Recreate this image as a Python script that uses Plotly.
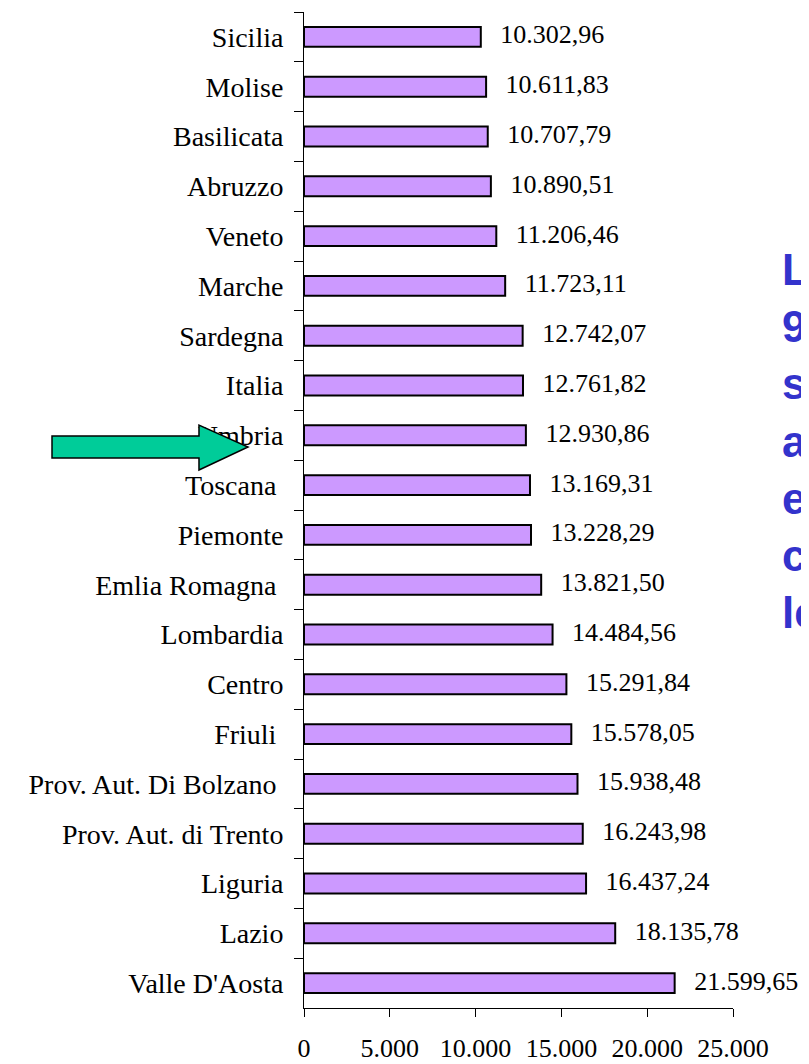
import plotly.graph_objects as go

regions = ["Sicilia", "Molise", "Basilicata", "Abruzzo", "Veneto", "Marche",
           "Sardegna", "Italia", "Umbria", "Toscana\u00a0", "Piemonte",
           "Emlia Romagna\u00a0", "Lombardia", "Centro", "Friuli\u00a0",
           "Prov. Aut. Di Bolzano\u00a0", "Prov. Aut. di Trento", "Liguria",
           "Lazio", "Valle D'Aosta"]
values = [10302.96, 10611.83, 10707.79, 10890.51, 11206.46, 11723.11,
          12742.07, 12761.82, 12930.86, 13169.31, 13228.29,
          13821.50, 14484.56, 15291.84, 15578.05,
          15938.48, 16243.98, 16437.24,
          18135.78, 21599.65]
x_ticks = [0, 5000, 10000, 15000, 20000, 25000]

OFF = 8  # page body margin
W, H = 809 - OFF, 1064 - OFF
L, R, T, B = 304 - OFF, 809 - 733, 12 - OFF, 1064 - 1008
pw, ph = W - L - R, H - T - B

def px(x):
    return (x - OFF - L) / pw

def py(y):
    return (H - B - (y - OFF)) / ph

serif = "Liberation Serif"

fig = go.Figure()
fig.add_trace(go.Bar(
    x=values, y=regions, orientation="h",
    marker=dict(color="#CC99FF", line=dict(color="black", width=2)),
    hoverinfo="skip",
))
fig.add_trace(go.Scatter(
    x=values, y=regions, mode="text",
    text=[f"{v:,.2f}".replace(",", "X").replace(".", ",").replace("X", ".") for v in values],
    texttemplate="\u00a0\u00a0\u00a0%{text}",
    textposition="middle right", cliponaxis=False,
    textfont=dict(family=serif, size=26, color="black"),
    hoverinfo="skip",
))

arrow = [(52, 436), (199, 436), (199, 425), (248, 447), (199, 470), (199, 458), (52, 458)]
path = "M " + " L ".join(f"{px(a):.4f},{py(b):.4f}" for a, b in arrow) + " Z"

fig.update_layout(
    width=W, height=H,
    margin=dict(l=L, r=R, t=T, b=B, autoexpand=False),
    paper_bgcolor="white", plot_bgcolor="white",
    separators=",.",
    bargap=0.6,
    showlegend=False,
    xaxis=dict(range=[0, 25000], tickvals=x_ticks, tickformat=",d",
               showgrid=False, zeroline=False, showline=True,
               linecolor="black", linewidth=1,
               ticks="outside", ticklen=8, tickcolor="black",
               ticklabelstandoff=9,
               tickfont=dict(family=serif, size=26, color="black")),
    yaxis=dict(categoryorder="array", categoryarray=regions,
               range=[len(regions) - 0.5, -0.5], autorange=False,
               showgrid=False, zeroline=False, showline=True,
               linecolor="black", linewidth=1,
               ticks="outside", tickson="boundaries", ticklen=9,
               tickcolor="black", ticklabelstandoff=14,
               tickfont=dict(family=serif, size=28, color="black")),
    shapes=[dict(type="path", xref="paper", yref="paper", path=path,
                 fillcolor="#00CC99", line=dict(color="black", width=1.5))],
    annotations=[
        dict(text="L<br>9<br>s<br>a<br>e<br>c<br>le", xref="paper", yref="paper",
             x=px(780), y=py(243), xanchor="left", yanchor="top", align="left",
             showarrow=False,
             font=dict(family="Liberation Sans", size=44, color="#3333CC", weight="bold")),
    ],
)

fig.write_html("out.html")
